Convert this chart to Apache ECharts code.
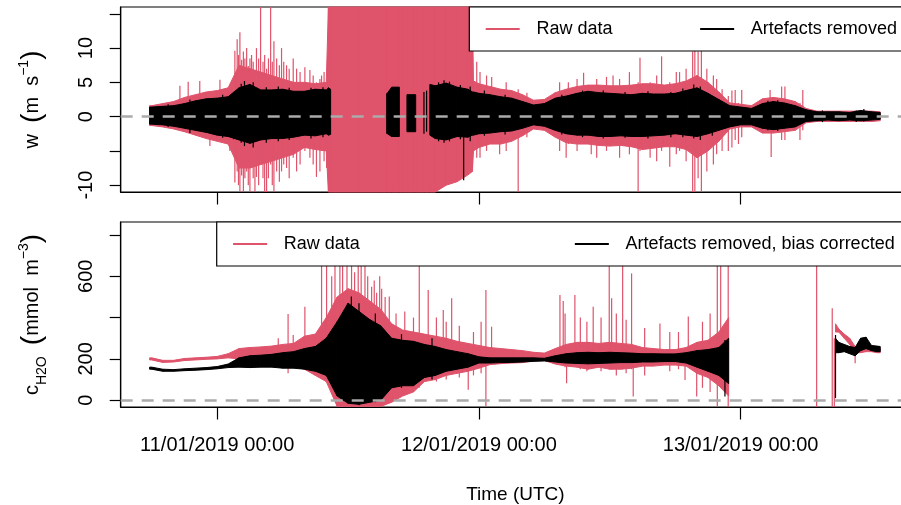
<!DOCTYPE html>
<html>
<head>
<meta charset="utf-8">
<script src="https://cdn.jsdelivr.net/npm/echarts@6/dist/echarts.min.js"></script>
<style>
  html, body { margin: 0; padding: 0; background: #fff; }
  #chart { width: 901px; height: 505px; }
</style>
</head>
<body>
<div id="chart"></div>
<script>
// time is in hours since 11/01/2019 00:00 UTC
var tickHours = [0, 24, 48];
var tickLabels = ['11/01/2019 00:00', '12/01/2019 00:00', '13/01/2019 00:00'];

// ---- vertical wind speed w (m s-1), envelope of the high frequency signal
var wHours = [-6.2, -6, -5, -4, -3, -2, -1, 0, 1, 2, 3, 4, 5, 6, 7, 8, 9, 10, 10.2, 10.4,
	11, 12, 13, 14, 15, 15.6, 16, 16.7, 17, 17.4, 18, 18.2, 19, 19.5, 20, 21, 22, 23, 23.4, 23.5,
	24, 25, 26, 27, 28, 29, 30, 31, 32, 33, 34, 35, 36, 37, 38, 39, 40, 41, 42, 43, 44,
	45, 46, 47, 48, 49, 50, 51, 52, 53, 54, 55, 56, 57, 58, 59, 60, 60.8];
var wRawHi = [1.6, 1.6, 1.9, 2.2, 2.8, 3.2, 3.6, 3.8, 4.2, 7.5, 7.0, 6.5, 6.0, 5.5, 5.0, 5.0, 4.8, 5.0, 17, 17,
	17, 17, 17, 17, 17, 17, 17, 17, 17, 17, 17, 17, 17, 17, 17, 17, 17, 17, 17, 5.2,
	4.8, 4.4, 4.0, 3.8, 3.2, 2.4, 2.5, 3.5, 4.0, 4.4, 4.6, 4.6, 4.5, 4.5, 4.6, 4.8, 4.8, 4.6, 4.8, 5.2, 6.0,
	5.0, 3.6, 2.0, 1.8, 1.6, 2.6, 2.8, 2.6, 2.2, 1.2, 0.8, 0.8, 0.8, 0.8, 0.8, 0.8, 0.7];
var wRawLo = [-1.3, -1.3, -1.5, -1.8, -2.2, -2.7, -3.2, -3.6, -4.0, -7.5, -7.5, -7.0, -6.5, -6.0, -5.5, -4.5, -4.8, -5.0, -12, -12,
	-12, -12, -12, -12, -12, -12, -12, -12, -12, -12, -12, -12, -12, -12, -11.5, -10, -9.5, -8.5, -8, -5.0,
	-4.5, -4.0, -4.0, -3.6, -2.8, -1.8, -2.0, -3.0, -3.8, -4.0, -4.0, -4.2, -4.3, -4.2, -4.4, -4.8, -4.6, -4.4, -4.4, -4.8, -6.0,
	-5.0, -3.6, -1.8, -1.5, -1.5, -2.4, -2.4, -2.2, -2.0, -0.9, -0.7, -0.7, -0.7, -0.7, -0.7, -0.7, -0.6];
var wCleanHi = [1.4, 1.4, 1.5, 1.6, 1.9, 2.3, 2.6, 2.7, 2.9, 4.2, 4.7, 3.9, 3.9, 4.0, 3.7, 3.7, 4.0, 3.9, 4.2, 4.0,
	null, null, null, null, null, 3.4, 4.3, 4.3, null, 3.2, 3.2, 3.2, null, 4.7, 4.5, 4.9, 4.3, 4.0, 3.6, 3.6,
	3.4, 3.2, 2.9, 2.7, 2.2, 1.7, 1.9, 2.7, 3.0, 3.4, 3.7, 3.5, 3.4, 3.3, 3.2, 3.4, 3.3, 3.3, 3.4, 3.8, 4.2,
	3.4, 2.5, 1.6, 1.4, 1.2, 1.9, 2.2, 2.0, 1.6, 1.0, 0.7, 0.7, 0.7, 0.6, 0.9, 0.7, 0.6];
var wCleanLo = [-1.1, -1.1, -1.2, -1.4, -1.7, -2.0, -2.3, -2.7, -2.9, -3.4, -3.9, -3.4, -3.2, -3.2, -3.0, -2.7, -2.8, -2.5, -2.7, -2.6,
	null, null, null, null, null, -2.5, -2.9, -2.9, null, -2.2, -2.2, -2.2, null, -2.7, -3.2, -3.4, -2.9, -3.0, -2.7, -2.7,
	-2.5, -2.4, -2.2, -2.1, -1.7, -1.2, -1.4, -2.0, -2.5, -2.7, -2.7, -2.9, -2.9, -2.8, -2.9, -2.9, -2.8, -2.7, -2.5, -2.7, -2.9,
	-2.5, -2.0, -1.5, -1.2, -1.2, -1.7, -1.9, -1.7, -1.5, -0.7, -0.6, -0.5, -0.6, -0.5, -0.6, -0.5, -0.4];
// single spikes: [hour, low, high]
var wRawSpikes = [[-3.42, 0, 4.5], [-2.66, 0, 5.1], [-1.6, 0, 5.2], [-0.67, -4.3, 0], [0.25, 0, 5.4], [1.16, -5.0, 0],
	[1.62, -9.6, 9.6], [1.83, -8, 11.3], [1.95, -10, 9], [2.08, -11.5, 12.3], [2.24, -8.6, 8.3], [2.4, -11, 9.5],
	[2.54, -9, 8.5], [2.7, -8, 10], [2.85, -10, 7.4], [3.0, -11.5, 8.5], [3.15, -7, 9], [3.3, -9, 8], [3.46, -11.5, 6],
	[3.6, -8.8, 10], [3.8, -10, 8.5], [3.98, -6, 17], [4.2, -9, 8], [4.35, -11.5, 9], [4.53, -11.5, 7], [4.7, -9, 8.5],
	[4.9, -7, 17], [5.05, -10, 8], [5.2, -11.5, 11], [5.45, -8, 8.5], [5.7, -9.5, 7.5], [5.9, -8, 10], [6.1, -7, 8],
	[6.36, -7.5, 7.5], [6.6, -9, 7], [6.97, -6, 8.5], [7.28, -8, 7], [7.6, -7, 6.5], [8.04, -5, 7.2], [8.5, -6, 6.8],
	[8.8, -7, 6], [9.1, -8.8, 5], [9.42, -8, 5.5], [9.57, -5, 6.0], [9.8, -6.5, 6.5], [10.03, -7.5, 5],
	[23.8, -6, 8], [24.1, -6, 6.5], [24.7, -5, 6], [25.17, -4, 5.8], [25.9, -5.5, 4], [26.5, -5, 5], [27.6, -11.5, 4],
	[28.4, -3, 3.5], [31.4, -5, 5], [32.0, -6.0, 4], [32.2, -4, 5.0], [33.0, -5, 5.5], [33.6, -4, 6.4], [34.3, -5.5, 4],
	[34.8, -6, 5.5], [35.7, -5, 5.8], [36.3, -4, 6.0], [36.9, -6, 5.5], [37.8, -5.5, 6.5], [38.6, -11.5, 5],
	[38.77, -5, 8.6], [39.7, -6, 5], [40.3, -6.5, 6], [40.75, -5, 8.8], [41.5, -7.3, 5], [42.1, -5.5, 6.5],
	[42.4, -5, 6.5], [43.0, -6.5, 7], [43.6, -11.5, 9.5], [43.8, -11.5, 10], [44.1, -9, 9.5], [44.4, -11.5, 10],
	[44.9, -8, 7], [45.5, -7, 6], [45.8, -5.5, 5.5], [46.3, -5, 4], [46.87, -5, 3], [47.2, -4.5, 3.8], [47.5, -3.4, 3.9],
	[47.8, -4, 2], [48.1, -3, 3.9], [50.7, -2, 3.9], [50.8, -5.9, 2], [51.76, -3.4, 4.4], [52.06, -3.4, 4.4],
	[53.44, -3.4, 2], [53.7, -2, 3.9]];
var wCleanSpikes = [[15.55, -2.5, 3.4], [18.96, -2.5, 3.6], [19.2, -2.2, 3.8], [22.6, -9.3, 0],
	[-4.5, -1.5, 1.8], [-2.5, -2.4, 2.5], [0.5, -3.1, 3.2], [1.5, -3.3, 3.6], [2.2, -3.8, 4.8], [2.5, -4.3, 5.2],
	[3.3, -4.5, 5.0], [4.5, -3.8, 4.3], [5.6, -3.6, 4.4], [6.6, -3.4, 4.2], [8.6, -3.2, 4.2], [9.7, -3.0, 4.3],
	[20.3, -3.6, 5.0], [20.8, -3.8, 5.3], [21.3, -3.6, 5.1], [22.3, -3.3, 4.6], [23.2, -3.6, 4.4], [24.5, -2.8, 3.8],
	[26.4, -2.6, 3.2], [31.6, -2.6, 3.2], [33.5, -3.0, 3.8], [35.4, -3.2, 3.8], [37.4, -3.1, 3.6], [39.5, -3.2, 3.7],
	[41.6, -3.0, 3.6], [42.7, -3.0, 4.1], [43.7, -3.2, 4.7], [44.3, -3.4, 4.4], [45.4, -2.8, 3.0], [50.5, -2.0, 2.3],
	[51.4, -2.1, 2.4], [55.5, -0.8, 0.9], [58.6, -0.8, 0.9], [59.3, -0.7, 1.1]];

// ---- H2O concentration c (mmol m-3)
var cHours = [-6.2, -6, -5, -4, -3, -2, -1, 0, 1, 2, 3, 4, 5, 6, 7, 8, 9, 10, 11, 12, 13, 14, 15, 16, 17, 18, 19, 20,
	21, 22, 23, 24, 25, 26, 27, 28, 29, 30, 31, 32, 33, 34, 35, 36, 37, 38, 39, 40, 41, 42, 43, 44, 45, 46, 46.9,
	50, 56.7, 57, 57.5, 58, 58.5, 59, 59.5, 60, 60.5, 60.8];
var cRawHi = [205, 205, 193, 193, 202, 205, 208, 212, 225, 250, 255, 258, 262, 270, 275, 310, 320, 400, 500, 540, 520, 480, 440, 370, 340, 330, 320, 310,
	300, 285, 275, 265, 255, 250, 245, 240, 232, 228, 250, 270, 280, 280, 275, 280, 275, 270, 255, 250, 245, 245, 255, 280, 290, 330, 400,
	null, 370, 345, 320, 300, 260, 260, 255, 255, 250, 250];
var cRawLo = [195, 195, 183, 185, 192, 195, 198, 200, 205, 200, 200, 195, 190, 185, 175, 150, 120, 90, -30, -30, -30, -30, -30, -10, 20, 40, 90, 100,
	120, 130, 140, 155, 172, 177, 180, 182, 190, 192, 175, 165, 160, 150, 160, 150, 150, 155, 165, 165, 170, 170, 165, 130, 110, 70, 20,
	null, 330, 330, 300, 270, 230, 230, 235, 235, 230, 230];
var cCleanHi = [160, 160, 150, 148, 152, 155, 158, 163, 175, 205, 215, 218, 222, 230, 235, 250, 260, 300, 380, 470, 430, 390, 360, 300, 290, 285, 270, 260,
	245, 235, 225, 210, 205, 205, 205, 205, 205, 203, 215, 225, 230, 232, 230, 232, 230, 228, 225, 225, 224, 224, 230, 240, 245, 255, 300,
	null, 300, 280, 270, 260, 255, 300, 305, 265, 262, 260];
var cCleanLo = [150, 150, 140, 140, 143, 145, 148, 152, 158, 160, 158, 160, 160, 155, 155, 150, 140, 120, 20, -15, -20, -10, 0, 60, 70, 70, 110, 120,
	140, 150, 160, 180, 180, 182, 183, 185, 188, 190, 185, 180, 178, 176, 178, 180, 182, 182, 185, 185, 187, 187, 180, 160, 140, 120, 80,
	null, 230, 230, 235, 225, 215, 240, 250, 240, 235, 235];
var cRawSpikes = [[5.6, 200, 300], [6.5, 130, 418], [6.97, 200, 316], [8.04, 200, 453], [9.57, 150, 700], [10.03, 100, 700],
	[10.5, 50, 600], [10.8, 0, 700], [11.25, 0, 700], [11.5, -20, 650], [11.9, -30, 700], [12.32, 0, 700], [12.6, -30, 620],
	[12.93, 0, 700], [13.2, -20, 700], [13.55, 0, 700], [13.8, -30, 600], [14.16, 0, 550], [14.4, -20, 580], [14.62, 0, 520],
	[14.9, -10, 600], [15.08, 0, 540], [15.4, 0, 500], [15.78, 50, 502], [16.4, 100, 420], [17.2, 60, 430], [18.0, 40, 400],
	[18.53, 60, 700], [19.35, 100, 534], [20.1, 90, 400], [20.73, 120, 437], [21.0, 100, 380], [21.5, 130, 494],
	[22.2, 110, 360], [23.02, 50, 200], [23.5, 120, 330], [24.2, 130, 380], [24.64, -30, 534], [25.16, 180, 356],
	[31.43, 170, 510], [31.73, 170, 480], [31.9, 160, 420], [32.04, 82, 200], [32.8, 170, 510], [33.3, 150, 400],
	[33.9, 140, 380], [34.48, 170, 453], [35.2, 140, 400], [35.95, 150, 700], [36.17, 150, 494], [36.6, 120, 420],
	[37.18, 150, 700], [37.5, 130, 390], [38.0, 150, 614], [38.15, 18, 200], [39.2, 120, 350], [40.6, 180, 372],
	[41.5, 140, 330], [42.3, 150, 330], [42.9, 98, 200], [43.2, 180, 405], [43.97, 18, 200], [44.5, 60, 380],
	[45.2, 40, 420], [45.86, -30, 700], [46.17, 60, 700], [46.86, -33, 700], [54.97, -33, 700], [56.4, -33, 445],
	[56.59, -33, 300], [58.5, 179, 250]];
var cCleanSpikes = [[12.3, -10, 502], [46.56, 18, 292], [56.7, 10, 316], [11.6, 0, 430], [13.0, -25, 470],
	[14.5, -10, 420], [16.9, 60, 320], [19.7, 100, 300]];

var RED = '#DF536B';
var FONT = '"Liberation Sans", Arial, sans-serif';
var X_MIN = -8.85, X_MAX = 63.54;

function clampTo(rect, p) {
	return [p[0], Math.min(Math.max(p[1], rect.y), rect.y + rect.height)];
}

// filled envelope between consecutive samples
function bandSeries(name, idx, hours, lo, hi, color) {
	return {
		name: name,
		type: 'custom',
		xAxisIndex: idx,
		yAxisIndex: idx,
		silent: true,
		itemStyle: { color: color },
		encode: { x: 0, y: [1, 2] },
		data: hours.map(function (h, i) { return [h, lo[i], hi[i]]; }),
		renderItem: function (params, api) {
			var i = params.dataIndex;
			if (i >= hours.length - 1) return;
			if (lo[i] == null || lo[i + 1] == null) return;
			var r = params.coordSys;
			var pts = [
				clampTo(r, api.coord([hours[i], hi[i]])),
				clampTo(r, api.coord([hours[i + 1], hi[i + 1]])),
				clampTo(r, api.coord([hours[i + 1], lo[i + 1]])),
				clampTo(r, api.coord([hours[i], lo[i]]))
			];
			return {
				type: 'polygon',
				shape: { points: pts },
				style: { fill: color, stroke: color, lineWidth: 1 }
			};
		}
	};
}

function spikeSeries(name, idx, spikes, color) {
	return {
		name: name,
		type: 'custom',
		xAxisIndex: idx,
		yAxisIndex: idx,
		silent: true,
		itemStyle: { color: color },
		encode: { x: 0, y: [1, 2] },
		data: spikes,
		renderItem: function (params, api) {
			var r = params.coordSys;
			var a = clampTo(r, api.coord([api.value(0), api.value(1)]));
			var b = clampTo(r, api.coord([api.value(0), api.value(2)]));
			return {
				type: 'line',
				shape: { x1: a[0], y1: a[1], x2: b[0], y2: b[1] },
				style: { stroke: color, lineWidth: 1.2 }
			};
		}
	};
}

function zeroLine(idx) {
	return {
		name: 'zero',
		type: 'line',
		xAxisIndex: idx,
		yAxisIndex: idx,
		data: [],
		silent: true,
		markLine: {
			silent: true,
			symbol: 'none',
			label: { show: false },
			lineStyle: { color: '#ABABAB', type: [12, 9], width: 2.5 },
			data: [{ yAxis: 0 }]
		}
	};
}

function xAxisFor(idx, withLabels) {
	return {
		type: 'value',
		gridIndex: idx,
		min: X_MIN,
		max: X_MAX,
		splitLine: { show: false },
		axisLine: { onZero: false, lineStyle: { color: '#000', width: 1.2 } },
		axisTick: { customValues: tickHours, length: 12.5, lineStyle: { color: '#000', width: 1.2 } },
		axisLabel: {
			show: withLabels,
			customValues: tickHours,
			margin: 28,
			fontSize: 20,
			color: '#000',
			fontFamily: FONT,
			formatter: function (v) { return tickLabels[tickHours.indexOf(v)]; }
		}
	};
}

function yAxisFor(idx, min, max, ticks, labels, name, rich) {
	return {
		type: 'value',
		gridIndex: idx,
		min: min,
		max: max,
		splitLine: { show: false },
		axisLine: { onZero: false, lineStyle: { color: '#000', width: 1.2 } },
		axisTick: { customValues: ticks, length: 11, lineStyle: { color: '#000', width: 1.2 } },
		axisLabel: { customValues: labels, rotate: 90, margin: 24, fontSize: 20, color: '#000', fontFamily: FONT },
		name: name,
		nameLocation: 'middle',
		nameRotate: 90,
		nameGap: 72,
		nameTextStyle: { rich: rich, fontFamily: FONT, color: '#000' }
	};
}

var base = { fontSize: 20, fontFamily: FONT, color: '#000' };
var paren = { fontSize: 28, fontFamily: FONT, color: '#000', lineHeight: 32 };
var sup = { fontSize: 14, fontFamily: FONT, color: '#000', verticalAlign: 'top' };
var sub = { fontSize: 14, fontFamily: FONT, color: '#000', verticalAlign: 'bottom' };

function legendFor(top, left, gap, names) {
	return {
		left: left,
		top: top,
		width: 900,
		orient: 'horizontal',
		selectedMode: false,
		padding: [11, 20, 11, 16.4],
		itemGap: gap,
		itemWidth: 34,
		itemHeight: 2,
		backgroundColor: '#fff',
		borderColor: '#000',
		borderWidth: 1.2,
		borderRadius: 0,
		textStyle: { fontSize: 18, lineHeight: 22, color: '#000', fontFamily: FONT, padding: [0, 0, 0, 11.7] },
		data: [
			{ name: names[0], icon: 'rect', itemStyle: { color: RED } },
			{ name: names[1], icon: 'rect', itemStyle: { color: '#000' } }
		]
	};
}

var chart = echarts.init(document.getElementById('chart'));
chart.setOption({
	animation: false,
	backgroundColor: '#fff',
	textStyle: { fontFamily: FONT },
	legend: [
		legendFor(7, 469.3, 87.7, ['Raw data', 'Artefacts removed']),
		legendFor(222, 216.7, 215, ['Raw data', 'Artefacts removed, bias corrected'])
	],
	grid: [
		{ left: 120.7, top: 7, width: 789.4, height: 185, outerBoundsMode: 'none', show: true, borderColor: '#000', borderWidth: 1.2 },
		{ left: 120.7, top: 222, width: 789.4, height: 185, outerBoundsMode: 'none', show: true, borderColor: '#000', borderWidth: 1.2 }
	],
	xAxis: [
		xAxisFor(0, false),
		Object.assign(xAxisFor(1, true), {
			name: 'Time (UTC)',
			nameLocation: 'middle',
			nameGap: 78,
			nameTextStyle: { fontSize: 19, color: '#000', fontFamily: FONT }
		})
	],
	yAxis: [
		yAxisFor(0, -11, 16, [-10, -5, 0, 5, 10, 15], [-10, 0, 5, 10],
			'{t|w}{t|  }{p|(}{t|m  s}{s|\u22121}{p|)}',
			{ t: base, p: paren, s: sup }),
		yAxisFor(1, -33, 863, [0, 200, 400, 600, 800], [0, 200, 600],
			'{t|c}{b|H2O}{t|  }{p|(}{t|mmol  m}{s|\u22123}{p|)}',
			{ t: base, p: paren, s: sup, b: sub })
	],
	series: [
		bandSeries('Raw data', 0, wHours, wRawLo, wRawHi, RED),
		spikeSeries('Raw data', 0, wRawSpikes, RED),
		bandSeries('Artefacts removed', 0, wHours, wCleanLo, wCleanHi, '#000'),
		spikeSeries('Artefacts removed', 0, wCleanSpikes, '#000'),
		zeroLine(0),
		bandSeries('Raw data', 1, cHours, cRawLo, cRawHi, RED),
		spikeSeries('Raw data', 1, cRawSpikes, RED),
		bandSeries('Artefacts removed, bias corrected', 1, cHours, cCleanLo, cCleanHi, '#000'),
		spikeSeries('Artefacts removed, bias corrected', 1, cCleanSpikes, '#000'),
		zeroLine(1)
	]
});
</script>
</body>
</html>
